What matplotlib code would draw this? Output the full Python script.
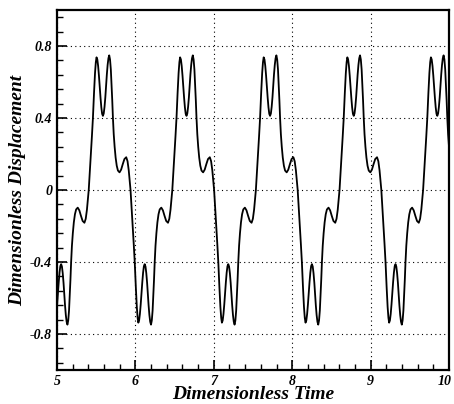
import matplotlib
matplotlib.use("Agg")
import matplotlib.pyplot as plt
import matplotlib.transforms as mtransforms
import numpy as np
from matplotlib.ticker import MultipleLocator

# time of the first trough minimum of each cycle
cycle_start = [4.971, 6.037, 7.103, 8.170, 9.236]

# one cycle of the response (time after cycle start, displacement)
cycle_offset = [0.0, 0.0102, 0.0204, 0.0306, 0.0408, 0.0510, 0.0612, 0.0714, 0.0816, 0.0918,
                0.1020, 0.1122, 0.1212, 0.1314, 0.1416, 0.1518, 0.1620, 0.1722, 0.1824, 0.1913,
                0.2003, 0.2092, 0.2194, 0.2309, 0.2436, 0.2577, 0.2730, 0.2934, 0.3138, 0.3342,
                0.3559, 0.3788, 0.3954, 0.4107, 0.4235, 0.4337, 0.4477, 0.4605, 0.4745, 0.4872,
                0.5013, 0.5140, 0.5242, 0.5332,
                0.5434, 0.5536, 0.5638, 0.5740, 0.5842, 0.5944, 0.6046, 0.6148, 0.6250, 0.6352,
                0.6454, 0.6544, 0.6646, 0.6748, 0.6850, 0.6952, 0.7054, 0.7156, 0.7245, 0.7335,
                0.7424, 0.7526, 0.7641, 0.7768, 0.7909, 0.8062, 0.8266, 0.8470, 0.8674, 0.8891,
                0.9120, 0.9286, 0.9439, 0.9567, 0.9669, 0.9809, 0.9937, 1.0077, 1.0204, 1.0345,
                1.0472, 1.0574, 1.0664]
cycle_disp = [-0.737, -0.725, -0.689, -0.636, -0.574, -0.512, -0.459, -0.423, -0.412, -0.425,
              -0.462, -0.515, -0.578, -0.641, -0.695, -0.732, -0.748, -0.725, -0.67, -0.59,
              -0.50, -0.40, -0.31, -0.24, -0.18, -0.135, -0.108, -0.098, -0.113, -0.143,
              -0.172, -0.182, -0.16, -0.11, -0.05, 0.0, 0.10, 0.20, 0.30, 0.40,
              0.54, 0.65, 0.71, 0.737,
              0.725, 0.689, 0.636, 0.574, 0.512, 0.459, 0.423, 0.412, 0.425, 0.462,
              0.515, 0.578, 0.641, 0.695, 0.732, 0.748, 0.725, 0.67, 0.59, 0.50,
              0.40, 0.31, 0.24, 0.18, 0.135, 0.108, 0.098, 0.113, 0.143, 0.172,
              0.182, 0.16, 0.11, 0.05, 0.0, -0.10, -0.20, -0.30, -0.40, -0.54,
              -0.65, -0.71, -0.737]

x_ticks = [5, 6, 7, 8, 9, 10]
y_ticks = [-0.8, -0.4, 0, 0.4, 0.8]
y_tick_labels = ["-0.8", "-0.4", "0", "0.4", "0.8"]

time = np.concatenate([np.add(s, cycle_offset) for s in cycle_start])
disp = np.tile(cycle_disp, len(cycle_start))

font = {"family": "Liberation Serif", "weight": "bold", "style": "italic"}

fig = plt.figure(figsize=(4.54, 4.04), dpi=100)
ax = fig.add_axes([57 / 454, 34 / 404, 392 / 454, 360 / 404])

ax.plot(time, disp, color="black", linewidth=1.3)

ax.set_xlim(5, 10)
ax.set_ylim(-1, 1)
ax.set_xticks(x_ticks)
ax.set_xticklabels([str(v) for v in x_ticks], fontdict=font, fontsize=10)
ax.set_yticks(y_ticks)
ax.set_yticklabels(y_tick_labels, fontdict=font, fontsize=10)
ax.xaxis.set_minor_locator(MultipleLocator(0.2))
ax.yaxis.set_minor_locator(MultipleLocator(0.08))
ax.tick_params(which="both", direction="in", top=False, right=False, pad=3.5)
ax.tick_params(which="major", length=7, width=1.2)
ax.tick_params(which="minor", length=4, width=1.0)

# the last label sits on the figure edge, nudge it in a little so it stays readable
last = ax.get_xticklabels()[-1]
last.set_transform(last.get_transform() + mtransforms.ScaledTranslation(-3 / 72, 0, fig.dpi_scale_trans))

ax.grid(True, which="major", color="black", linestyle=(0, (1, 3)), linewidth=0.8)
for s in ax.spines.values():
    s.set_linewidth(1.6)

ax.set_xlabel("Dimensionless Time", fontdict=font, fontsize=14, labelpad=-1)
ax.set_ylabel("Dimensionless Displacement", fontdict=font, fontsize=14, labelpad=3)

plt.savefig("out.png", dpi=100)
